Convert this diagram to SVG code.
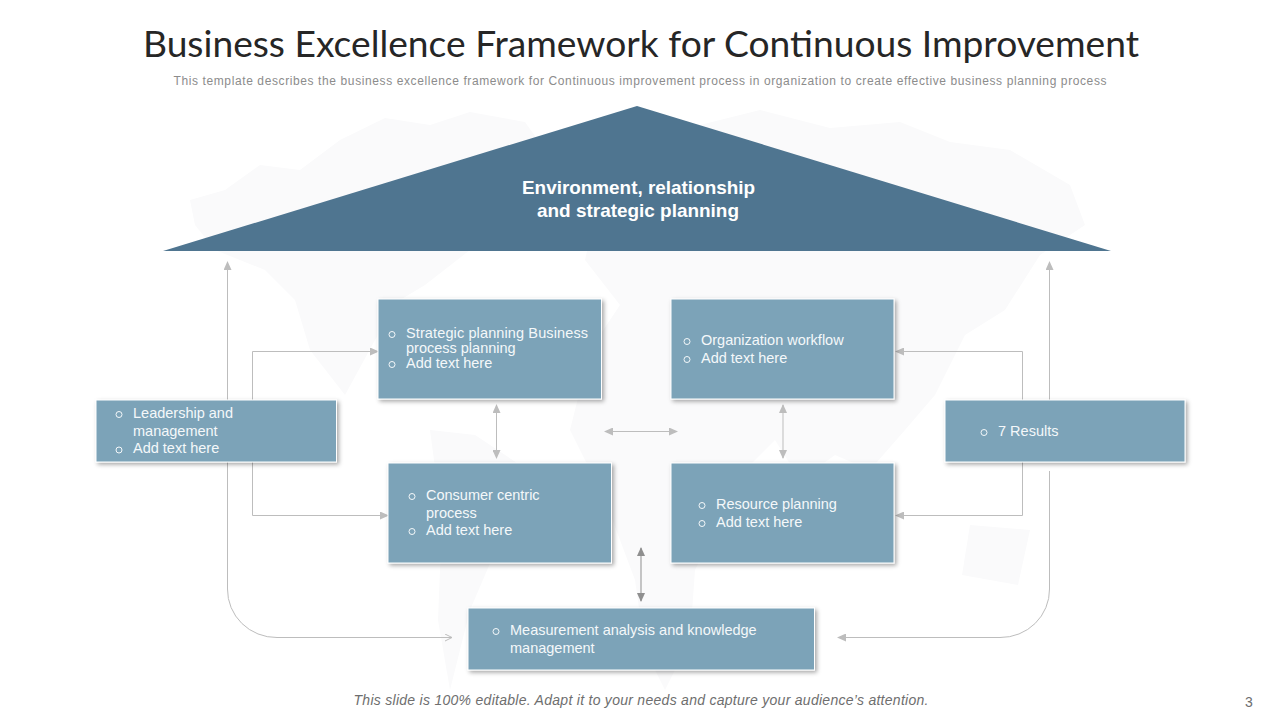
<svg xmlns="http://www.w3.org/2000/svg" width="1280" height="720" viewBox="0 0 1280 720">
<style>
text{font-family:"Liberation Sans",Arial,sans-serif}
.box{fill:#7ba3b8;stroke:#fff;stroke-width:1;filter:url(#sh)}
.t{fill:#f4f8fa;font-size:14.5px}
.b{fill:none;stroke:#f4f8fa;stroke-width:1}
.c{fill:none;stroke:#bdbdbd;stroke-width:1}
.map{fill:#fafafb}
</style>
<defs>
<filter id="sh" x="-5%" y="-10%" width="112%" height="125%"><feDropShadow dx="2" dy="2" stdDeviation="2" flood-color="#000" flood-opacity="0.35"/></filter>
<marker id="a" markerWidth="9" markerHeight="8" refX="8" refY="4" orient="auto-start-reverse" markerUnits="userSpaceOnUse"><path d="M0 0L9 4L0 8z" fill="#bdbdbd"/></marker>
<marker id="d" markerWidth="9" markerHeight="8" refX="8" refY="4" orient="auto-start-reverse" markerUnits="userSpaceOnUse"><path d="M0 0L9 4L0 8z" fill="#8f8f8f"/></marker>
<marker id="o" markerWidth="9" markerHeight="8" refX="8" refY="4" orient="auto" markerUnits="userSpaceOnUse"><path d="M1 0.5L8 4L1 7.5" fill="none" stroke="#bdbdbd"/></marker>
</defs>
<rect width="1280" height="720" fill="#fff"/>
<g id="map">
<path class="map" d="M190 200L225 190L260 165L300 170L340 140L385 118L430 125L470 112L525 122L545 150L515 175L530 195L490 215L470 250L425 285L400 300L375 340L345 395L310 350L295 300L265 270L215 250L195 225Z"/>
<path class="map" d="M595 140L640 118L700 125L760 110L830 128L900 122L950 142L1010 150L1070 185L1085 225L1040 255L1005 310L965 335L935 395L905 430L870 470L835 455L800 480L775 440L745 470L720 520L695 570L690 640L665 690L645 650L635 580L605 500L570 430L590 350L620 305L585 260L600 195Z"/>
<path class="map" d="M430 430L475 435L520 465L500 540L470 610L450 690L438 620L442 520Z"/>
<path class="map" d="M970 525L1030 530L1018 585L962 575Z"/>
</g>
<text id="title" x="641" y="57" text-anchor="middle" font-size="37" textLength="996" lengthAdjust="spacingAndGlyphs" fill="#262626" style="font-family:Lato,'Liberation Sans',sans-serif">Business Excellence Framework for Continuous Improvement</text>
<text id="subtitle" x="640" y="85" text-anchor="middle" font-size="12" textLength="933" fill="#8c8c8c">This template describes the business excellence framework for Continuous improvement process in organization to create effective business planning process</text>
<g id="connectors">
<path class="c" marker-end="url(#a)" d="M227.500 400V262"/>
<path class="c" marker-end="url(#o)" d="M227.500 462V589A49 48 0 0 0 277 637.500H452"/>
<path class="c" marker-end="url(#a)" d="M252.500 400V351.500H378"/>
<path class="c" marker-end="url(#a)" d="M252.500 462V515.500H388"/>
<path class="c" marker-end="url(#a)" d="M1049.500 400V262"/>
<path class="c" marker-end="url(#a)" d="M1049.500 471V589A49 48 0 0 1 1000 637.500H838"/>
<path class="c" marker-end="url(#a)" d="M1022.500 400V351.500H896"/>
<path class="c" marker-end="url(#a)" d="M1022.500 462V515.500H896"/>
<path class="c" marker-start="url(#a)" marker-end="url(#a)" d="M496.500 405V458"/>
<path class="c" marker-start="url(#a)" marker-end="url(#a)" d="M783 405V458"/>
<path class="c" marker-start="url(#a)" marker-end="url(#a)" d="M605 431.500H677"/>
<path class="c" style="stroke:#8f8f8f" marker-start="url(#d)" marker-end="url(#d)" d="M641 548V601"/>
</g>
<g id="roof">
<polygon points="637,106 1111,251 163,251" fill="#4f7590"/>
<text x="638.500" y="193.500" text-anchor="middle" font-size="18.500" font-weight="bold" fill="#fff" textLength="233" lengthAdjust="spacingAndGlyphs">Environment, relationship</text>
<text x="638" y="216.500" text-anchor="middle" font-size="18.500" font-weight="bold" fill="#fff" textLength="202" lengthAdjust="spacingAndGlyphs">and strategic planning</text>
</g>
<g id="leadership">
<rect class="box" x="96" y="400" width="240.500" height="62"/>
<circle class="b" cx="119" cy="414.500" r="3"/><circle class="b" cx="119" cy="450" r="3"/>
<text class="t" x="133" y="418">Leadership and</text><text class="t" x="133" y="436">management</text><text class="t" x="133" y="453">Add text here</text>
</g>
<g id="strategic">
<rect class="box" x="378" y="299" width="223.500" height="100"/>
<circle class="b" cx="392" cy="334.500" r="3"/><circle class="b" cx="392" cy="364.500" r="3"/>
<text class="t" x="406" y="338" textLength="182">Strategic planning Business</text><text class="t" x="406" y="353">process planning</text><text class="t" x="406" y="368">Add text here</text>
</g>
<g id="workflow">
<rect class="box" x="671" y="299" width="223" height="100"/>
<circle class="b" cx="687" cy="341.500" r="3"/><circle class="b" cx="687" cy="359.500" r="3"/>
<text class="t" x="701" y="345">Organization workflow</text><text class="t" x="701" y="363">Add text here</text>
</g>
<g id="consumer">
<rect class="box" x="388" y="463" width="223.500" height="100"/>
<circle class="b" cx="412" cy="496.500" r="3"/><circle class="b" cx="412" cy="531.500" r="3"/>
<text class="t" x="426" y="500">Consumer centric</text><text class="t" x="426" y="518">process</text><text class="t" x="426" y="535">Add text here</text>
</g>
<g id="resource">
<rect class="box" x="671" y="463" width="223" height="100"/>
<circle class="b" cx="702" cy="505.500" r="3"/><circle class="b" cx="702" cy="523.500" r="3"/>
<text class="t" x="716" y="509">Resource planning</text><text class="t" x="716" y="527">Add text here</text>
</g>
<g id="measurement">
<rect class="box" x="468" y="608" width="346.500" height="62"/>
<circle class="b" cx="496" cy="631.500" r="3"/>
<text class="t" x="510" y="635">Measurement analysis and knowledge</text><text class="t" x="510" y="653">management</text>
</g>
<g id="results">
<rect class="box" x="945" y="400" width="240" height="62"/>
<circle class="b" cx="984" cy="432.500" r="3"/>
<text class="t" x="998" y="436">7 Results</text>
</g>
<text id="note" x="641" y="705" text-anchor="middle" font-size="14" font-style="italic" fill="#6e6e6e" textLength="575">This slide is 100% editable. Adapt it to your needs and capture your audience’s attention.</text>
<text id="page" x="1249" y="707" text-anchor="middle" font-size="14" fill="#6e6e6e">3</text>
</svg>
